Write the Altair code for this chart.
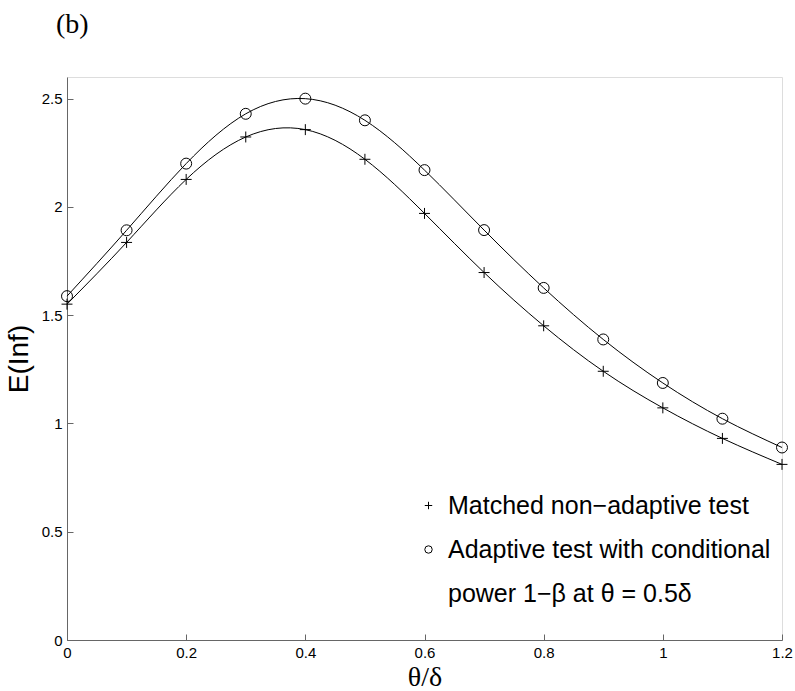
import altair as alt
import pandas as pd

# ---- data ----
theta = [0.0, 0.1, 0.2, 0.3, 0.4, 0.5, 0.6, 0.7, 0.8, 0.9, 1.0, 1.1, 1.2]
matched = [1.551, 1.836, 2.127, 2.323, 2.357, 2.220, 1.970, 1.697, 1.451, 1.241, 1.072, 0.931, 0.811]
adaptive = [1.588, 1.892, 2.200, 2.430, 2.500, 2.400, 2.170, 1.893, 1.626, 1.388, 1.187, 1.022, 0.889]
legend_labels = ["Matched non\u2212adaptive test",
                 "Adaptive test with conditional",
                 "power 1\u2212\u03b2 at \u03b8 = 0.5\u03b4"]
x_ticks = [0, 0.2, 0.4, 0.6, 0.8, 1.0, 1.2]
y_ticks = [0, 0.5, 1.0, 1.5, 2.0, 2.5]

rows = []
for t, v in zip(theta, matched):
    rows.append({"x": t, "y": v, "series": legend_labels[0]})
for t, v in zip(theta, adaptive):
    rows.append({"x": t, "y": v, "series": legend_labels[1]})
df = pd.DataFrame(rows)

W, H = 715, 563
AX = "#666666"
SANS = "Liberation Sans"
SERIF = "Liberation Serif"
PLUS = "M-1,0L1,0M0,-1L0,1"

xscale = alt.Scale(domain=[0, 1.2], nice=False, zero=False)
yscale = alt.Scale(domain=[0, 2.6], nice=False, zero=False)

base = alt.Chart(df)

lines = base.mark_line(interpolate="natural", color="black", strokeWidth=1).encode(
    x=alt.X("x:Q", scale=xscale, axis=alt.Axis(
        orient="bottom", values=x_ticks, format="~g", ticks=False, grid=False,
        domainColor=AX, domainWidth=1, labelFont=SANS, labelFontSize=15,
        labelColor="black", labelPadding=5, labelFlush=False,
        title="\u03b8/\u03b4", titleFont=SERIF, titleFontSize=28,
        titleFontWeight="normal", titleColor="black", titlePadding=3)),
    y=alt.Y("y:Q", scale=yscale, axis=alt.Axis(
        orient="left", values=y_ticks, format="~g", ticks=False, grid=False,
        domainColor=AX, domainWidth=1, labelFont=SANS, labelFontSize=15,
        labelColor="black", labelPadding=5, labelFlush=False,
        title="E(Inf)", titleFont=SANS, titleFontSize=28,
        titleFontWeight="normal", titleColor="black", titlePadding=8)),
    detail="series:N",
)

points = base.mark_point(filled=False, color="black", strokeWidth=1, size=120, opacity=1).encode(
    x=alt.X("x:Q", scale=xscale, axis=alt.Axis(
        orient="top", offset=-H, values=x_ticks, ticks=True, tickSize=6,
        tickColor=AX, labels=False, domain=False, grid=False, title="")),
    y=alt.Y("y:Q", scale=yscale, axis=alt.Axis(
        orient="right", offset=-W, values=y_ticks, ticks=True, tickSize=6,
        tickColor=AX, labels=False, domain=False, grid=False, title="")),
    shape=alt.Shape("series:N",
                    scale=alt.Scale(domain=legend_labels, range=[PLUS, "circle", "M0,0"]),
                    legend=alt.Legend(
                        orient="none", legendX=349, legendY=416, title="",
                        labelFont=SANS, labelFontSize=25, labelColor="black",
                        labelLimit=600, labelOffset=7, symbolSize=55,
                        symbolStrokeColor="black", symbolStrokeWidth=1,
                        symbolFillColor="transparent", rowPadding=18,
                        padding=0, symbolOffset=0)),
)

chart = alt.layer(lines, points).resolve_axis(x="independent", y="independent").properties(
    width=W, height=H,
    autosize=alt.AutoSizeParams(type="none"),
    padding={"left": 67, "top": 77, "right": 13, "bottom": 51},
    title=alt.TitleParams("(b)", font=SERIF, fontSize=28, fontWeight="normal",
                          color="black", anchor="start", frame="group",
                          dx=-11, offset=16, baseline="alphabetic"),
).configure_view(strokeWidth=0).configure(background="white")

chart.save("out.html", embed_options={"renderer": "svg", "actions": False})
